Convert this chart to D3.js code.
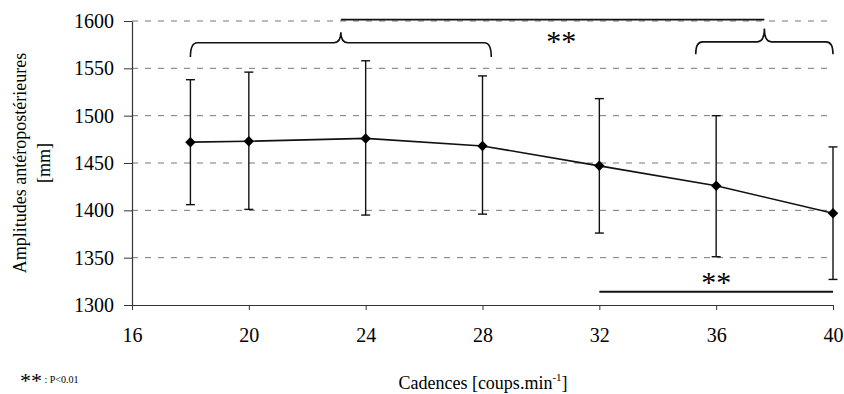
<!DOCTYPE html>
<html>
<head>
<meta charset="utf-8">
<script src="https://cdn.jsdelivr.net/npm/d3@7"></script>
<style>
  body { margin: 0; background: #fff; }
  svg, svg text { font-family: "Liberation Serif", "Times New Roman", serif; }
</style>
</head>
<body>
<div id="chart"></div>
<script>
// cadences (coups.min-1) and amplitudes (mm)
const cadences = [18, 20, 24, 28, 32, 36, 40];
const means    = [1472, 1473, 1476, 1468, 1447, 1426, 1397];
const upper    = [1538, 1546, 1558, 1542, 1518, 1500, 1467];
const lower    = [1406, 1401, 1395, 1396, 1376, 1351, 1327];

const xTicks = [16, 20, 24, 28, 32, 36, 40];
const yTicks = [1300, 1350, 1400, 1450, 1500, 1550, 1600];

// significance braces : [from, to, top, ends, tip] in data units
const braces = [
    [18, 28.3, 1577, 1562, 1588],
    [35.3, 40, 1578, 1565, 1592]
];
const bottomBar = [32, 40, 1314];
const topBarLevel = 1601.5;

const W = 844, H = 394;
const margin = {top: 21, right: 11, bottom: 89, left: 132};
const serif = "'Liberation Serif', 'Times New Roman', serif";

const svg = d3.select("#chart").append("svg")
    .attr("width", W)
    .attr("height", H);

const x = d3.scaleLinear().domain([16, 40]).range([margin.left, W - margin.right]);
const y = d3.scaleLinear().domain([1300, 1600]).range([H - margin.bottom, margin.top]);

//dashed grid
svg.append("g")
    .selectAll("line")
    .data(yTicks.filter(d => d > 1300))
    .join("line")
    .attr("x1", x(16))
    .attr("x2", x(40))
    .attr("y1", d => y(d))
    .attr("y2", d => y(d))
    .attr("stroke", "#777")
    .attr("stroke-width", 1)
    .attr("stroke-dasharray", "6,7");

//y axis
let yAxis = svg.append("g")
    .attr("transform", "translate(" + x(16) + ",0)")
    .call(d3.axisLeft(y).tickValues(yTicks).tickFormat(d3.format("d"))
        .tickSize(8).tickSizeOuter(0).tickPadding(10));
yAxis.select(".domain").attr("stroke", "#333").attr("stroke-width", 1.2);
yAxis.selectAll(".tick line").attr("stroke", "#333");
yAxis.selectAll("text").style("font-size", "20px").style("font-family", serif).attr("fill", "#000");

//x axis
let xAxis = svg.append("g")
    .attr("transform", "translate(0," + y(1300) + ")")
    .call(d3.axisBottom(x).tickValues(xTicks).tickFormat(d3.format("d"))
        .tickSize(5).tickSizeOuter(0).tickPadding(18));
xAxis.select(".domain").attr("stroke", "#333").attr("stroke-width", 1.2);
xAxis.selectAll(".tick line").attr("stroke", "#333");
xAxis.selectAll("text").style("font-size", "20px").style("font-family", serif).attr("fill", "#000");

//error bars
let bars = svg.append("g").attr("stroke", "#111").attr("stroke-width", 1.4);
cadences.forEach((c, i) => {
    bars.append("line")
        .attr("x1", x(c)).attr("x2", x(c))
        .attr("y1", y(upper[i])).attr("y2", y(lower[i]));
    [upper[i], lower[i]].forEach(v => {
        bars.append("line")
            .attr("x1", x(c) - 4.5).attr("x2", x(c) + 4.5)
            .attr("y1", y(v)).attr("y2", y(v));
    });
});

//mean line
let line = d3.line()
    .x((d, i) => x(cadences[i]))
    .y(d => y(d));
svg.append("path")
    .datum(means)
    .attr("d", line)
    .attr("fill", "none")
    .attr("stroke", "#111")
    .attr("stroke-width", 1.6);

svg.append("g")
    .selectAll("path")
    .data(means)
    .join("path")
    .attr("d", d3.symbol().type(d3.symbolDiamond2).size(70))
    .attr("transform", (d, i) => "translate(" + x(cadences[i]) + "," + y(d) + ")")
    .attr("fill", "#000");

//braces
function bracePath(b) {
    let x0 = x(b[0]), x1 = x(b[1]), xm = (x0 + x1) / 2;
    let yt = y(b[2]), ye = y(b[3]), yp = y(b[4]);
    let r = 7;
    return "M" + x0 + "," + ye +
        " Q" + x0 + "," + yt + " " + (x0 + r) + "," + yt +
        " L" + (xm - r) + "," + yt +
        " Q" + xm + "," + yt + " " + xm + "," + yp +
        " Q" + xm + "," + yt + " " + (xm + r) + "," + yt +
        " L" + (x1 - r) + "," + yt +
        " Q" + x1 + "," + yt + " " + x1 + "," + ye;
}
svg.append("g")
    .selectAll("path")
    .data(braces)
    .join("path")
    .attr("d", bracePath)
    .attr("fill", "none")
    .attr("stroke", "#111")
    .attr("stroke-width", 1.6);

//line joining the braces
let tipL = (x(braces[0][0]) + x(braces[0][1])) / 2;
let tipR = (x(braces[1][0]) + x(braces[1][1])) / 2;
svg.append("line")
    .attr("x1", tipL).attr("x2", tipR)
    .attr("y1", y(topBarLevel)).attr("y2", y(topBarLevel))
    .attr("stroke", "#111").attr("stroke-width", 1.8);
svg.append("text")
    .attr("x", x(30.7))
    .attr("y", 51)
    .attr("text-anchor", "middle")
    .style("font-size", "30px")
    .text("**");

//bottom bar
svg.append("line")
    .attr("x1", x(bottomBar[0])).attr("x2", x(bottomBar[1]))
    .attr("y1", y(bottomBar[2])).attr("y2", y(bottomBar[2]))
    .attr("stroke", "#111").attr("stroke-width", 1.8);
svg.append("text")
    .attr("x", x(36))
    .attr("y", 292)
    .attr("text-anchor", "middle")
    .style("font-size", "30px")
    .text("**");

//axis titles
let yTitle = svg.append("text")
    .attr("transform", "translate(26," + y(1450) + ") rotate(-90)")
    .attr("text-anchor", "middle")
    .style("font-size", "18px");
yTitle.append("tspan").attr("x", 0).attr("dy", 0).text("Amplitudes antéropostérieures");
yTitle.append("tspan").attr("x", 0).attr("dy", 24).text("[mm]");

let xTitle = svg.append("text")
    .attr("x", 483)
    .attr("y", 389)
    .attr("text-anchor", "middle")
    .style("font-size", "18px");
xTitle.append("tspan").text("Cadences [coups.min");
xTitle.append("tspan").style("font-size", "11px").attr("dy", -8).text("-1");
xTitle.append("tspan").attr("dy", 8).text("]");

//p value note
let note = svg.append("text")
    .attr("x", 20)
    .attr("y", 388)
    .style("font-size", "22px");
note.append("tspan").text("**");
note.append("tspan").style("font-size", "10px").attr("dy", -5).text(" : P<0.01");
</script>
</body>
</html>
